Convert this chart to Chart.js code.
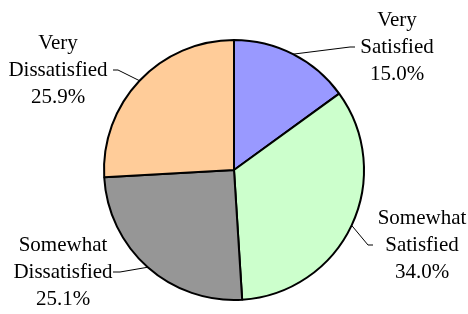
<!DOCTYPE html>
<html>
<head>
<meta charset="utf-8">
<script src="https://cdn.jsdelivr.net/npm/chart.js@4/dist/chart.umd.min.js"></script>
<style>
  html, body { margin: 0; padding: 0; background: #fff; }
  canvas { display: block; }
</style>
</head>
<body>
<canvas id="pieChart" width="468" height="314"></canvas>
<script>
const categories = [
  ["Very", "Satisfied"],
  ["Somewhat", "Satisfied"],
  ["Somewhat", "Dissatisfied"],
  ["Very", "Dissatisfied"]
];
const shares = [15.0, 34.0, 25.1, 25.9];
const sliceColors = ["#9999FF", "#CCFFCC", "#969696", "#FFCC99"];

// where each label block sits (middle line) and how its leader bends
const labelSpots = [
  { x: 397, y: 47, elbow: [350, 47], end: [355, 47] },
  { x: 422, y: 245, elbow: [368, 245], end: [373, 245] },
  { x: 63, y: 272, elbow: [120, 272], end: [113, 272] },
  { x: 58, y: 70, elbow: [118, 70], end: [113, 70] }
];

const outsideLabels = {
  id: "outsideLabels",
  afterDraw(chart) {
    const ctx = chart.ctx;
    const arcs = chart.getDatasetMeta(0).data;
    ctx.save();
    ctx.font = "21px 'Liberation Serif', 'Times New Roman', serif";
    ctx.fillStyle = "#000";
    ctx.strokeStyle = "#000";
    ctx.lineWidth = 1;
    ctx.textAlign = "center";
    ctx.textBaseline = "middle";

    arcs.forEach((arc, i) => {
      const spot = labelSpots[i];
      const mid = (arc.startAngle + arc.endAngle) / 2;
      const px = arc.x + Math.cos(mid) * arc.outerRadius;
      const py = arc.y + Math.sin(mid) * arc.outerRadius;

      ctx.beginPath();
      ctx.moveTo(px, py);
      ctx.lineTo(spot.elbow[0], spot.elbow[1]);
      ctx.lineTo(spot.end[0], spot.end[1]);
      ctx.stroke();

      const lines = categories[i].concat([shares[i].toFixed(1) + "%"]);
      lines.forEach((txt, k) => {
        ctx.fillText(txt, spot.x, spot.y + (k - 1) * 27);
      });
    });
    ctx.restore();
  }
};

new Chart(document.getElementById("pieChart"), {
  type: "pie",
  data: {
    labels: categories.map((c) => c.join(" ")),
    datasets: [{
      data: shares,
      backgroundColor: sliceColors,
      borderColor: "#000",
      borderWidth: 2
    }]
  },
  options: {
    responsive: false,
    animation: false,
    layout: { padding: { top: 39, bottom: 13, left: 0, right: 0 } },
    plugins: {
      legend: { display: false },
      tooltip: { enabled: false }
    }
  },
  plugins: [outsideLabels]
});
</script>
</body>
</html>
